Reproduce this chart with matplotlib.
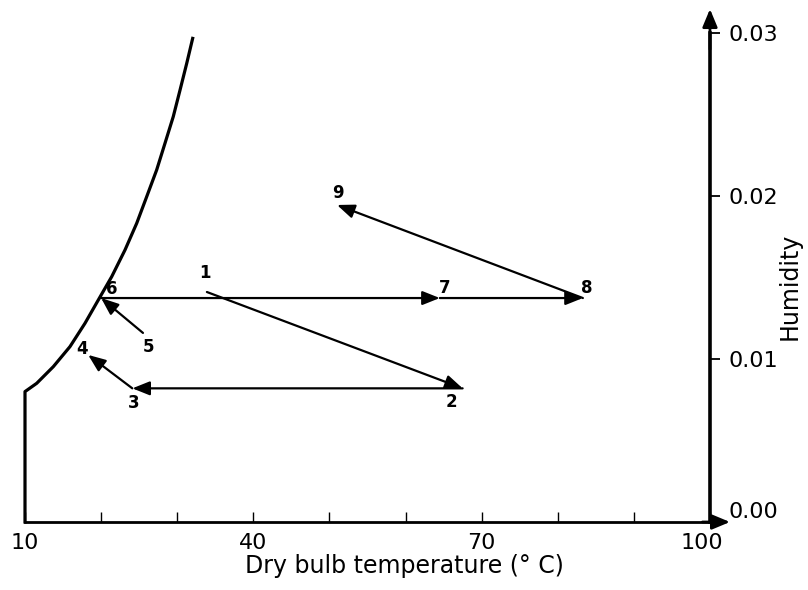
import matplotlib
matplotlib.use("Agg")
import matplotlib.pyplot as plt
from matplotlib.transforms import ScaledTranslation

# saturation boundary (dry bulb temperature, humidity)
sat_temp = [10.0, 10.0, 11.54, 13.72, 15.91, 17.88, 19.63, 21.39, 23.14, 24.68,
            25.99, 27.30, 28.39, 29.48, 30.37, 31.25, 32.03]
sat_hum = [0.0, 0.0080, 0.00851, 0.00953, 0.01076, 0.01219, 0.01362, 0.01505, 0.01669, 0.01833,
           0.01996, 0.0216, 0.02323, 0.02487, 0.0265, 0.02814, 0.02967]

# states of the process
state_names = ["1", "2", "3", "4", "5", "6", "7", "8", "9"]
state_temp = [33.9, 67.5, 24.1, 18.3, 25.5, 20.0, 64.5, 83.3, 51.0]
state_hum = [0.01411, 0.0082, 0.0082, 0.01025, 0.0116, 0.01374, 0.01374, 0.01374, 0.01945]

# process arrows, as (from, to)
paths = [("1", "2"), ("2", "3"), ("3", "4"), ("5", "6"), ("6", "7"), ("7", "8"), ("8", "9")]

# label offsets in pixels
label_offsets = {"1": (-2, 19), "2": (-11, -14), "3": (1, -15), "4": (-6, 6), "5": (6, -14),
                 "6": (11, 9), "7": (5, 10), "8": (4, 10), "9": (1, 12)}

x_ticks = [10, 20, 30, 40, 50, 60, 70, 80, 90, 100]
x_tick_labels = ["10", "", "", "40", "", "", "70", "", "", "100"]
y_ticks = [0.0, 0.01, 0.02, 0.03]
y_tick_labels = ["0.00", "0.01", "0.02", "0.03"]

fig = plt.figure(figsize=(8.08, 5.90), dpi=100)
ax = fig.add_axes([0, 0, 1, 1])
ax.set_xlim(6.715, 112.88)
ax.set_ylim(-0.004172, 0.032025)

# Axes: bottom at humidity 0, right at 100 C
ax.spines["top"].set_visible(False)
ax.spines["left"].set_visible(False)
ax.spines["bottom"].set_position(("data", 0))
ax.spines["right"].set_position(("data", 100))
ax.spines["bottom"].set_bounds(10, 100)
ax.spines["right"].set_bounds(0, 0.03)
ax.spines["bottom"].set_linewidth(2.0)
ax.spines["right"].set_linewidth(2.6)

ax.set_xticks(x_ticks)
ax.set_xticklabels(x_tick_labels)
ax.tick_params(axis="x", direction="in", length=7, width=1.0, pad=8, labelsize=16)
ax.yaxis.tick_right()
ax.set_yticks(y_ticks)
ax.set_yticklabels(y_tick_labels)
ax.tick_params(axis="y", direction="out", length=7, width=1.3, pad=6, labelsize=16)

# small shifts of some tick labels
zero_lab = ax.yaxis.get_major_ticks()[0].label2
zero_lab.set_transform(zero_lab.get_transform() + ScaledTranslation(0, 0.12, fig.dpi_scale_trans))
hund_lab = ax.xaxis.get_major_ticks()[-1].label1
hund_lab.set_transform(hund_lab.get_transform() + ScaledTranslation(-0.08, 0, fig.dpi_scale_trans))

# arrow heads on the axes
head = dict(arrowstyle="-|>,head_length=0.6,head_width=0.25", color="k", lw=2.0,
            mutation_scale=18, shrinkA=0, shrinkB=0)
ax.annotate("", xy=(102.63, 0), xytext=(99, 0), arrowprops=head)
ax.annotate("", xy=(100, 0.03147), xytext=(100, 0.029), arrowprops=head)

ax.set_xlabel("Dry bulb temperature (° C)", fontsize=17)
ax.xaxis.set_label_coords(0.5, 0.061)
ax.yaxis.set_label_position("right")
ax.set_ylabel("Humidity", fontsize=17)
ax.yaxis.set_label_coords(0.962, 0.515)

# saturation line
ax.plot(sat_temp, sat_hum, color="k", lw=2.3, solid_joinstyle="round")

# process lines
pos = {n: (t, h) for n, t, h in zip(state_names, state_temp, state_hum)}
arrow = dict(arrowstyle="-|>,head_length=0.7,head_width=0.28", color="k", lw=1.6,
             mutation_scale=15, shrinkA=0, shrinkB=0)
for a, b in paths:
    ax.annotate("", xy=pos[b], xytext=pos[a], arrowprops=arrow)

for n in state_names:
    ax.annotate(n, xy=pos[n], xytext=label_offsets[n], textcoords="offset pixels",
                ha="center", va="center", fontsize=12, fontweight="bold")

fig.savefig("out.png", dpi=100)
